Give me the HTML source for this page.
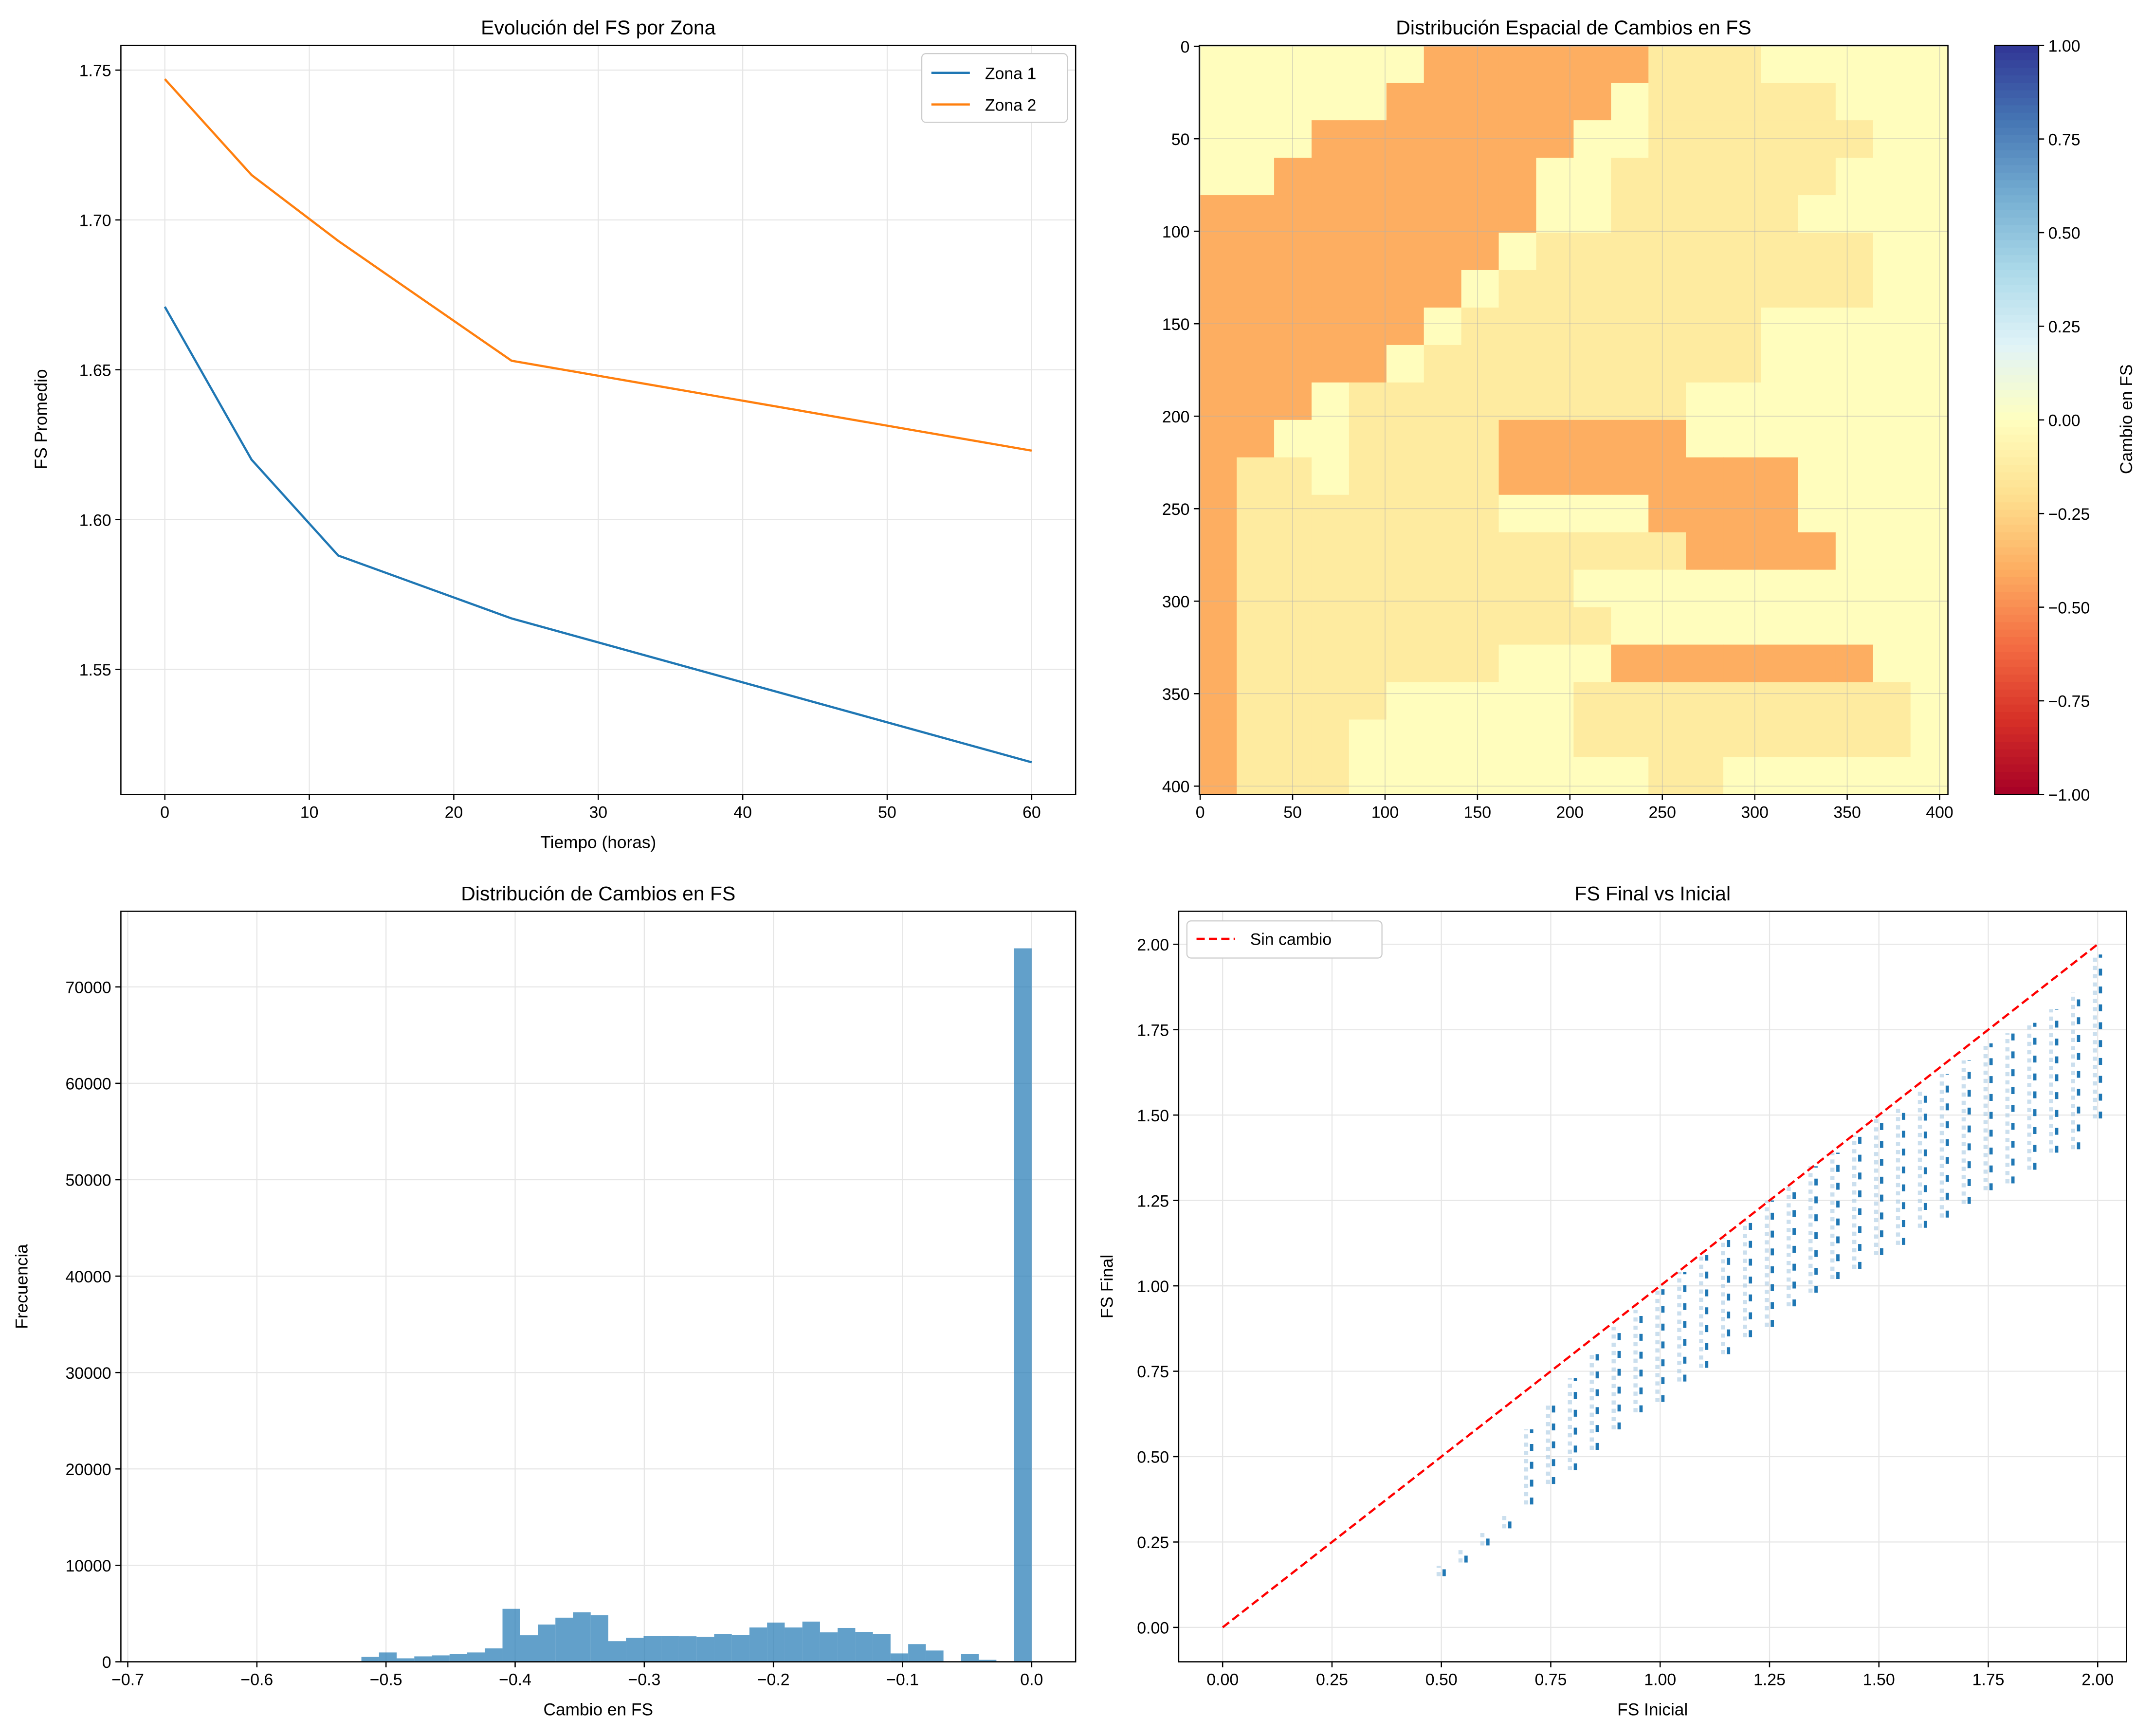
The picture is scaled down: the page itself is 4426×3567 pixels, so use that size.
<!DOCTYPE html>
<html><head><meta charset="utf-8"><style>
html,body{margin:0;padding:0;background:#fff}
svg{display:block;font-family:"Liberation Sans","DejaVu Sans",sans-serif}
</style></head><body>
<svg id="fig" width="4426" height="3567" viewBox="0 0 1568 1263" preserveAspectRatio="none" xmlns="http://www.w3.org/2000/svg">
<rect x="0" y="0" width="1568" height="1263" fill="#fff"/>
<g id="p1"></g>
<g id="p2"></g>
<g id="p3"></g>
<g id="p4"></g>
</svg>
<script>
// ---- data: panel 1
const timeHours=[0,6,12,24,60];
const zona1=[1.671,1.620,1.588,1.567,1.519];
const zona2=[1.747,1.715,1.693,1.653,1.623];
const p1XTicks=[0,10,20,30,40,50,60];
const p1YTicks=[1.55,1.60,1.65,1.70,1.75];
// ---- data: panel 2 (coarse grid, 20x20 cells of ~20 units each)
const heatRows=[
"......oooooolll.....",
".....oooooo.lllll...",
"...ooooooo..llllll..",
"..ooooooo..llllll...",
"ooooooooo..lllll....",
"oooooooo.lllllllll..",
"ooooooo.llllllllll..",
"oooooo.llllllll.....",
"ooooo.lllllllll.....",
"ooo.lllllllll.......",
"oo..llllooooo.......",
"oll.lllloooooooo....",
"olllllll....oooo....",
"olllllllllllloooo...",
"olllllllll..........",
"ollllllllll.........",
"olllllll...ooooooo..",
"ollll.....lllllllll.",
"olll......lllllllll.",
"olll........ll......"];
const heatCodeValues={".":-0.01,"l":-0.13,"o":-0.40};
const heatTicks=[0,50,100,150,200,250,300,350,400];
const cbarTicks=[1.00,0.75,0.50,0.25,0.00,-0.25,-0.50,-0.75,-1.00];
// ---- data: panel 3
const histCounts=[0,0,0,0,0,0,0,0,0,0,0,50,508,966,356,559,661,814,966,1390,5492,2746,3864,4576,5136,4831,2136,2492,2695,2695,2644,2593,2898,2797,3559,4068,3559,4169,3051,3508,3102,2898,864,1831,1169,0,814,203,0,74000];
const histMin=-0.683, histMax=0.0;
const p3XTicks=[-0.7,-0.6,-0.5,-0.4,-0.3,-0.2,-0.1,0.0];
const p3YTicks=[0,10000,20000,30000,40000,50000,60000,70000];
// ---- data: panel 4
const fsInicial=[0.50,0.55,0.60,0.65,0.70,0.75,0.80,0.85,0.90,0.95,1.00,1.05,1.10,1.15,1.20,1.25,1.30,1.35,1.40,1.45,1.50,1.55,1.60,1.65,1.70,1.75,1.80,1.85,1.90,1.95,2.00];
const fsFinalHi=[0.18,0.23,0.28,0.33,0.58,0.66,0.73,0.80,0.88,0.93,0.99,1.04,1.09,1.14,1.19,1.25,1.30,1.35,1.39,1.44,1.49,1.53,1.57,1.62,1.66,1.71,1.74,1.77,1.81,1.86,1.97];
const fsFinalLo=[0.15,0.19,0.24,0.29,0.36,0.42,0.46,0.52,0.58,0.63,0.66,0.72,0.76,0.80,0.85,0.88,0.94,0.98,1.02,1.05,1.09,1.12,1.17,1.20,1.24,1.28,1.30,1.34,1.39,1.40,1.49];
const p4Ticks=[0.00,0.25,0.50,0.75,1.00,1.25,1.50,1.75,2.00];

const NS="http://www.w3.org/2000/svg";
function mk(parent,tag,attrs,text){const e=document.createElementNS(NS,tag);for(const k in attrs)e.setAttribute(k,attrs[k]);if(text!==undefined)e.textContent=text;parent.appendChild(e);return e;}
function lin(d0,d1,r0,r1){return v=>r0+(v-d0)/(d1-d0)*(r1-r0);}

function frame(g,L,T,R,B,xs,xt,xfmt,ys,yt,yfmt,grid){
  if(grid){
    xt.forEach(v=>mk(g,'line',{x1:xs(v),x2:xs(v),y1:T,y2:B,stroke:'#e6e6e6','stroke-width':0.8}));
    yt.forEach(v=>mk(g,'line',{x1:L,x2:R,y1:ys(v),y2:ys(v),stroke:'#e6e6e6','stroke-width':0.8}));
  }
  xt.forEach(v=>{mk(g,'line',{x1:xs(v),x2:xs(v),y1:B,y2:B+4,stroke:'#000','stroke-width':0.9});
    const t=mk(g,'text',{x:xs(v),y:B+17,'font-size':12,'text-anchor':'middle'},xfmt(v));
    
    });
  yt.forEach(v=>{mk(g,'line',{x1:L-4,x2:L,y1:ys(v),y2:ys(v),stroke:'#000','stroke-width':0.9});
    const t=mk(g,'text',{x:L-7,y:ys(v)+4.5,'font-size':12,'text-anchor':'end'},yfmt(v));
    
    });
}
function border(g,L,T,R,B){mk(g,'rect',{x:L,y:T,width:R-L,height:B-T,fill:'none',stroke:'#000','stroke-width':0.9});}
function title(g,x,y,s){const t=mk(g,'text',{x:x,y:y,'font-size':14.5,'text-anchor':'middle'},s);}

// ---- Panel 1
(function(){
  const g=document.getElementById('p1');const L=88,T=33,R=783,B=578;
  const xs=lin(0,60,120,751), ys=lin(1.55,1.75,487,51);
  frame(g,L,T,R,B,xs,p1XTicks,v=>String(v),ys,p1YTicks,v=>v.toFixed(2),true);
  [[zona1,'#1f77b4','zona-1-line'],[zona2,'#ff7f0e','zona-2-line']].forEach(([d,c,n])=>{
    const p=mk(g,'polyline',{points:d.map((v,i)=>xs(timeHours[i])+','+ys(v)).join(' '),fill:'none',stroke:c,'stroke-width':1.6});
    
    
  });
  border(g,L,T,R,B);
  title(g,435.5,25,'Evolución del FS por Zona');
  mk(g,'text',{x:435.5,y:617,'font-size':12.5,'text-anchor':'middle',},'Tiempo (horas)');
  mk(g,'text',{x:0,y:0,'font-size':12.5,'text-anchor':'middle',transform:'translate(34,305) rotate(-90)',},'FS Promedio');
  const lg=mk(g,'g',{});
  mk(lg,'rect',{x:671,y:39,width:106,height:50,rx:3,fill:'#fff',stroke:'#ccc','stroke-width':0.8});
  mk(lg,'line',{x1:678,x2:706,y1:53,y2:53,stroke:'#1f77b4','stroke-width':1.6});
  mk(lg,'text',{x:717,y:57.5,'font-size':12,},'Zona 1');
  mk(lg,'line',{x1:678,x2:706,y1:76,y2:76,stroke:'#ff7f0e','stroke-width':1.6});
  mk(lg,'text',{x:717,y:80.5,'font-size':12,},'Zona 2');
})();

// ---- Panel 2
function rdylbu(v){
  const stops=[[-1,[165,0,38]],[-0.8,[215,48,39]],[-0.6,[244,109,67]],[-0.4,[253,174,97]],[-0.2,[254,224,144]],[0,[255,255,191]],[0.2,[224,243,248]],[0.4,[171,217,233]],[0.6,[116,173,209]],[0.8,[69,117,180]],[1,[49,54,149]]];
  for(let i=0;i<stops.length-1;i++){const a=stops[i],b=stops[i+1];if(v<=b[0]){const t=(v-a[0])/(b[0]-a[0]);const c=a[1].map((x,j)=>Math.round(x+(b[1][j]-x)*t));return 'rgb('+c.join(',')+')';}}
  return 'rgb(49,54,149)';
}
(function(){
  const g=document.getElementById('p2');const L=873,T=33,R=1418,B=578;
  const span=405;const xs=lin(-0.5,404.5,L,R), ys=lin(-0.5,404.5,T,B);
  const nr=heatRows.length, cw=span/heatRows[0].length, ch=span/nr;
  heatRows.forEach((row,r)=>{[...row].forEach((code,c)=>{
    const x0=xs(-0.5+c*cw), y0=ys(-0.5+r*ch);
    const cell=mk(g,'rect',{x:x0,y:y0,width:xs(-0.5+(c+1)*cw)-x0+0.3,height:ys(-0.5+(r+1)*ch)-y0+0.3,fill:rdylbu(heatCodeValues[code])});
    
    
  });});
  heatTicks.forEach(v=>{mk(g,'line',{x1:xs(v),x2:xs(v),y1:T,y2:B,stroke:'#b0b0b0','stroke-width':0.6,'stroke-opacity':0.5});mk(g,'line',{x1:L,x2:R,y1:ys(v),y2:ys(v),stroke:'#b0b0b0','stroke-width':0.6,'stroke-opacity':0.5});});
  frame(g,L,T,R,B,xs,heatTicks,v=>String(v),ys,heatTicks,v=>String(v),false);
  border(g,L,T,R,B);
  title(g,1145.5,25,'Distribución Espacial de Cambios en FS');
  const cb=mk(g,'g',{});
  const CL=1452,CR=1484; const cy=lin(1,-1,T,B);
  for(let i=0;i<100;i++){const v0=1-i*0.02;mk(cb,'rect',{x:CL,y:cy(v0),width:CR-CL,height:cy(v0-0.02)-cy(v0)+0.3,fill:rdylbu(v0-0.01)});}
  mk(cb,'rect',{x:CL,y:T,width:CR-CL,height:B-T,fill:'none',stroke:'#000','stroke-width':0.9});
  cbarTicks.forEach(v=>{mk(cb,'line',{x1:CR,x2:CR+4,y1:cy(v),y2:cy(v),stroke:'#000','stroke-width':0.9});
    const t=mk(cb,'text',{x:CR+7,y:cy(v)+4.5,'font-size':12},(v<0?'−':'')+Math.abs(v).toFixed(2));
    
    });
  mk(cb,'text',{x:0,y:0,'font-size':12.5,'text-anchor':'middle',transform:'translate(1552,305) rotate(-90)',},'Cambio en FS');
})();

// ---- Panel 3
(function(){
  const g=document.getElementById('p3');const L=88,T=663,R=783,B=1209;
  const xs=lin(-0.7,0,93,751), ys=lin(0,70000,B,718);
  frame(g,L,T,R,B,xs,p3XTicks,v=>(v<0?'−':'')+Math.abs(v).toFixed(1),ys,p3YTicks,v=>String(v),true);
  const w=(histMax-histMin)/histCounts.length;
  histCounts.forEach((c,i)=>{if(c<=0)return;const x0=xs(histMin+i*w),x1=xs(histMin+(i+1)*w);
    const b=mk(g,'rect',{x:x0,y:ys(c),width:x1-x0,height:B-ys(c),fill:'#1f77b4','fill-opacity':0.7});
    
    });
  border(g,L,T,R,B);
  title(g,435.5,655,'Distribución de Cambios en FS');
  mk(g,'text',{x:435.5,y:1248,'font-size':12.5,'text-anchor':'middle',},'Cambio en FS');
  mk(g,'text',{x:0,y:0,'font-size':12.5,'text-anchor':'middle',transform:'translate(20,936) rotate(-90)',},'Frecuencia');
})();

// ---- Panel 4
(function(){
  const g=document.getElementById('p4');const L=858,T=663,R=1548,B=1209;
  const xs=lin(0,2,890,1527), ys=lin(0,2,1184,687);
  frame(g,L,T,R,B,xs,p4Ticks,v=>v.toFixed(2),ys,p4Ticks,v=>v.toFixed(2),true);
  fsInicial.forEach((x,i)=>{
    const s=mk(g,'line',{x1:xs(x)-2,x2:xs(x)-2,y1:ys(fsFinalLo[i]),y2:ys(fsFinalHi[i]),stroke:'#a9c9e3','stroke-width':3,'stroke-opacity':0.6,'stroke-dasharray':'3 3'});
    
    
    const d=mk(g,'line',{x1:xs(x)+2,x2:xs(x)+2,y1:ys(fsFinalLo[i]),y2:ys(fsFinalHi[i]),stroke:'#1f77b4','stroke-width':2.4,'stroke-dasharray':'5 8'});
    
    
  });
  const ref=mk(g,'line',{x1:xs(0),y1:ys(0),x2:xs(2),y2:ys(2),stroke:'#ff0000','stroke-width':1.6,'stroke-dasharray':'6 3'});
  
  
  border(g,L,T,R,B);
  title(g,1203,655,'FS Final vs Inicial');
  mk(g,'text',{x:1203,y:1248,'font-size':12.5,'text-anchor':'middle',},'FS Inicial');
  mk(g,'text',{x:0,y:0,'font-size':12.5,'text-anchor':'middle',transform:'translate(810,936) rotate(-90)',},'FS Final');
  const lg=mk(g,'g',{});
  mk(lg,'rect',{x:864,y:670,width:142,height:27,rx:3,fill:'#fff',stroke:'#ccc','stroke-width':0.8});
  mk(lg,'line',{x1:871,x2:899,y1:683,y2:683,stroke:'#ff0000','stroke-width':1.6,'stroke-dasharray':'6 3'});
  mk(lg,'text',{x:910,y:687.5,'font-size':12,},'Sin cambio');
})();
</script>
</body></html>
